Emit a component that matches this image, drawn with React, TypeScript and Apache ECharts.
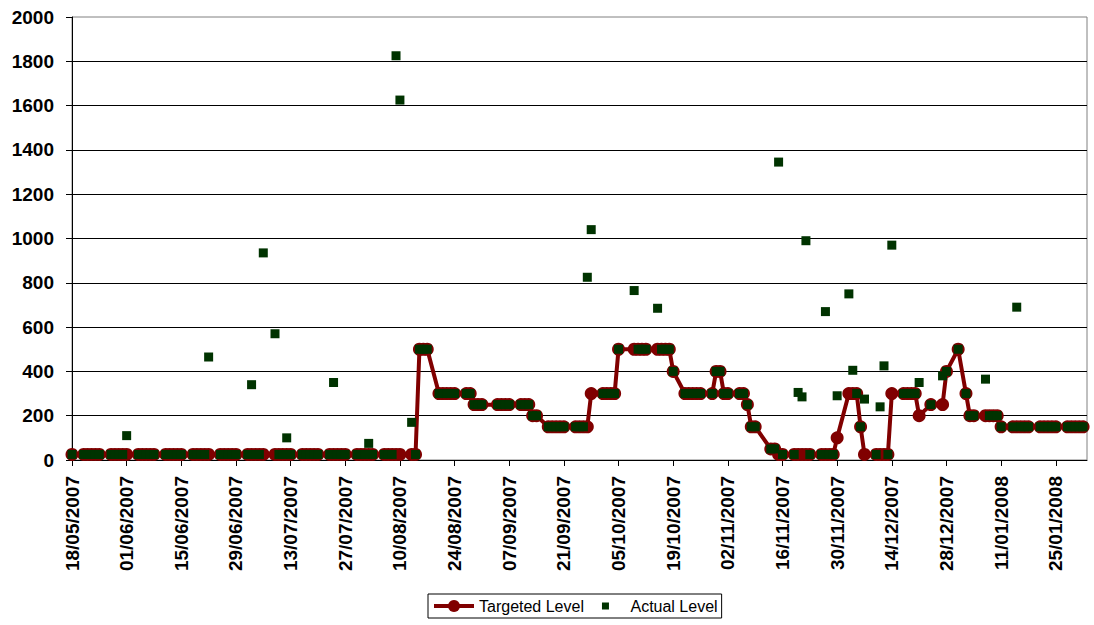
import React, { useEffect, useRef } from "react";
import * as echarts from "echarts";

// ---------- Calendar (category axis: one category per day) ----------
const DAY_MS = 86400000;
const axisStartUtc = Date.UTC(2007, 4, 18); // 18/05/2007
const axisDayCount = 261; // 18/05/2007 .. 02/02/2008
const firstWeekMondayOffset = -4; // Monday 14/05/2007, relative to axis start
const labelEvery = 14; // one tick label every two weeks

const pad2 = (n: number) => String(n).padStart(2, "0");
const categories: string[] = Array.from({ length: axisDayCount }, (_, i) => {
  const d = new Date(axisStartUtc + i * DAY_MS);
  return `${pad2(d.getUTCDate())}/${pad2(d.getUTCMonth() + 1)}/${d.getUTCFullYear()}`;
});

// ---------- Data: one row per week, Monday..Friday (null = no reading) ----------
type Row = (number | null)[];

const targetWeeks: Row[] = [
  [null, null, null, null, 25], // 14/05/2007
  [25, 25, 25, 25, 25], // 21/05
  [25, 25, 25, 25, 25], // 28/05
  [25, 25, 25, 25, 25], // 04/06
  [25, 25, 25, 25, 25], // 11/06
  [25, 25, 25, 25, 25], // 18/06
  [25, 25, 25, 25, 25], // 25/06
  [25, 25, 25, 25, 25], // 02/07
  [25, 25, 25, 25, 25], // 09/07
  [25, 25, 25, 25, 25], // 16/07
  [25, 25, 25, 25, 25], // 23/07
  [25, 25, 25, 25, 25], // 30/07
  [25, 25, 25, 25, 25], // 06/08
  [25, 25, 500, 500, 500], // 13/08
  [300, 300, 300, 300, 300], // 20/08
  [300, 300, 250, 250, 250], // 27/08
  [null, 250, 250, 250, 250], // 03/09
  [250, 250, 250, 200, 200], // 10/09
  [150, 150, 150, 150, 150], // 17/09
  [150, 150, 150, 150, 300], // 24/09
  [300, 300, 300, 300, 500], // 01/10
  [null, 500, 500, 500, 500], // 08/10
  [500, 500, 500, 500, 400], // 15/10
  [300, 300, 300, 300, 300], // 22/10
  [300, 400, 400, 300, 300], // 29/10
  [300, 300, 250, 150, 150], // 05/11
  [null, 50, 50, 25, 25], // 12/11
  [25, 25, 25, 25, 25], // 19/11
  [25, 25, 25, 25, 100], // 26/11
  [300, 300, 300, 150, 25], // 03/12
  [25, 25, 25, 25, 300], // 10/12
  [300, 300, 300, 300, 200], // 17/12
  [250, null, null, 250, 400], // 24/12
  [500, null, 300, 200, 200], // 31/12
  [200, 200, 200, 200, 150], // 07/01/2008
  [150, 150, 150, 150, 150], // 14/01
  [150, 150, 150, 150, 150], // 21/01
  [150, 150, 150, 150, 150], // 28/01
];

const actualWeeks: Row[] = [
  [null, null, null, null, 25], // 14/05/2007
  [25, 25, 25, 25, 25], // 21/05
  [25, 25, 25, 25, 110], // 28/05
  [25, 25, 25, 25, 25], // 04/06
  [25, 25, 25, 25, 25], // 11/06
  [25, 25, 25, 25, 465], // 18/06
  [25, 25, 25, 25, 25], // 25/06
  [25, 340, 25, 25, 935], // 02/07
  [570, 25, 25, 100, 25], // 09/07
  [25, 25, 25, 25, 25], // 16/07
  [25, 350, 25, 25, 25], // 23/07
  [25, 25, 25, 75, 25], // 30/07
  [25, 25, 25, 1825, 1625], // 06/08
  [170, 25, 500, 500, 500], // 13/08
  [300, 300, 300, 300, 300], // 20/08
  [300, 300, 250, 250, 250], // 27/08
  [null, 250, 250, 250, 250], // 03/09
  [250, 250, 250, 200, 200], // 10/09
  [150, 150, 150, 150, 150], // 17/09
  [150, 150, 150, 825, 1040], // 24/09
  [300, 300, 300, 300, 500], // 01/10
  [null, 765, 500, 500, 500], // 08/10
  [685, 500, 500, 500, 400], // 15/10
  [300, 300, 300, 300, 300], // 22/10
  [300, 400, 400, 300, 300], // 29/10
  [300, 300, 250, 150, 150], // 05/11
  [null, 50, 50, 1345, 25], // 12/11
  [25, 305, 285, 990, 25], // 19/11
  [25, 670, 25, 25, 290], // 26/11
  [750, 405, 300, 150, 275], // 03/12
  [25, 240, 425, 25, 970], // 10/12
  [300, 300, 300, 300, 350], // 17/12
  [250, null, null, 380, 400], // 24/12
  [500, null, 300, 200, 200], // 31/12
  [365, 200, 200, 200, 150], // 07/01/2008
  [150, 690, 150, 150, 150], // 14/01
  [150, 150, 150, 150, 150], // 21/01
  [150, 150, 150, 150, 150], // 28/01
];

const yTicks = { min: 0, max: 2000, step: 200 };
const seriesNames = { target: "Targeted Level", actual: "Actual Level" };

function spreadWeeks(rows: Row[]): (number | null)[] {
  const out: (number | null)[] = new Array(axisDayCount).fill(null);
  rows.forEach((row, w) =>
    row.forEach((v, k) => {
      const idx = firstWeekMondayOffset + 7 * w + k;
      if (idx >= 0 && idx < axisDayCount) out[idx] = v;
    })
  );
  return out;
}

const FONT = '"Liberation Sans", Arial, Helvetica, sans-serif';
const RED = "#800000";
const GREEN = "#003300";

export default function App() {
  const ref = useRef<HTMLDivElement>(null);

  useEffect(() => {
    if (!ref.current) return;
    const chart = echarts.init(ref.current, undefined, { renderer: "svg" });
    const targetData = spreadWeeks(targetWeeks);
    const actualData = spreadWeeks(actualWeeks);

    chart.setOption({
      animation: false,
      backgroundColor: "#ffffff",
      textStyle: { fontFamily: FONT },
      grid: {
        left: 72,
        right: 7,
        top: 17,
        bottom: 165,
        show: true,
        borderColor: "#808080",
        borderWidth: 1,
        backgroundColor: "transparent",
      },
      legend: {
        left: 428,
        top: 594,
        orient: "horizontal",
        itemWidth: 40,
        itemHeight: 15,
        itemGap: 14,
        padding: [4, 4, 4, 4],
        borderColor: "#000000",
        borderWidth: 1,
        symbolKeepAspect: true,
        textStyle: { fontFamily: FONT, fontSize: 16, color: "#000000" },
        data: [
          { name: seriesNames.target, lineStyle: { width: 4, color: RED } },
          { name: seriesNames.actual, icon: "path://M0,0M15,15M4,4h7v7h-7z" },
        ],
      },
      xAxis: {
        type: "category",
        data: categories,
        boundaryGap: false,
        axisLine: { show: true, lineStyle: { color: "#000000", width: 1 } },
        axisTick: {
          show: true,
          interval: labelEvery - 1,
          length: 6,
          lineStyle: { color: "#000000" },
        },
        axisLabel: {
          interval: labelEvery - 1,
          rotate: 90,
          margin: 16,
          fontFamily: FONT,
          fontSize: 19,
          fontWeight: "bold",
          color: "#000000",
        },
        splitLine: { show: false },
      },
      yAxis: {
        type: "value",
        min: yTicks.min,
        max: yTicks.max,
        interval: yTicks.step,
        axisLine: { show: true, lineStyle: { color: "#000000", width: 1 } },
        axisTick: { show: true, length: 6, lineStyle: { color: "#000000" } },
        axisLabel: {
          margin: 18,
          fontFamily: FONT,
          fontSize: 19,
          fontWeight: "bold",
          color: "#000000",
          formatter: (v: number) => String(v),
        },
        splitLine: {
          show: true,
          showMaxLine: false,
          lineStyle: { color: "#000000", width: 1 },
        },
      },
      series: [
        {
          name: seriesNames.target,
          type: "line",
          data: targetData,
          connectNulls: true,
          symbol: "circle",
          symbolSize: 13,
          showAllSymbol: true,
          color: RED,
          itemStyle: { color: RED, opacity: 1 },
          lineStyle: { color: RED, width: 4 },
          z: 2,
        },
        {
          name: seriesNames.actual,
          type: "scatter",
          data: actualData,
          symbol: "rect",
          symbolSize: 9,
          color: GREEN,
          itemStyle: { color: GREEN, opacity: 1 },
          z: 3,
        },
      ],
    });

    return () => chart.dispose();
  }, []);

  return (
    <div
      ref={ref}
      style={{ position: "fixed", left: 0, top: 0, width: 1094, height: 625, background: "#fff" }}
    />
  );
}
